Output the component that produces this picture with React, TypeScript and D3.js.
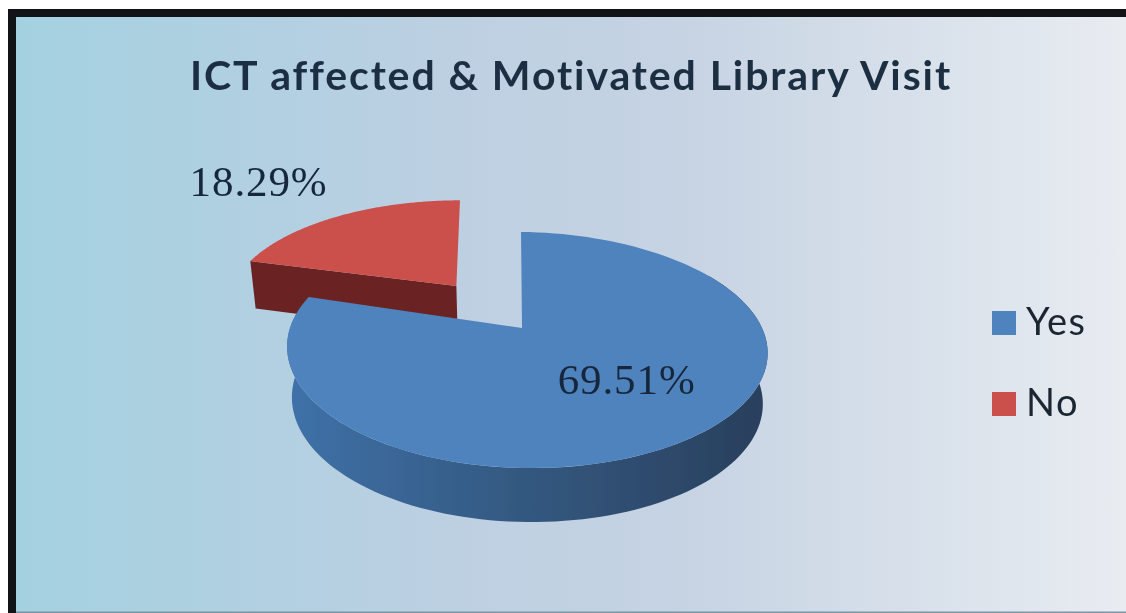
import React from 'react';
import * as d3 from 'd3';

const categories = ['Yes', 'No'];
const shares = [69.51, 18.29];
const colors = ['#5083bd', '#cb4f4b'];
const title = 'ICT affected & Motivated Library Visit';

const width = 1126;
const height = 613;

// perspective view of the pie disc
const apex = { x: 522, y: 328 };
const scaleX = 236;
const scaleY = 114;
const tilt = 0.186;
const skew = 0.068;
const explode = 0.487;
const redTwist = (-1.6 * Math.PI) / 180;

type Pt = [number, number];

// theta is clockwise from 12 o'clock, r is 0..1 on the disc
function project(theta: number, r: number, sliceIndex: number, lowered = false): Pt {
    const t = sliceIndex === 1 ? theta + redTwist : theta;
    let u = r * Math.sin(t);
    let v = -r * Math.cos(t);
    const bow = sliceIndex === 0 ? 4 * u * u : 0;
    if (sliceIndex === 1) {
        // red slice is pulled out along its middle
        u += explode * Math.sin(midAngle(1));
        v += -explode * Math.cos(midAngle(1));
    }
    const w = 1 - tilt * v;
    const y = apex.y + (scaleY * v) / w;
    const x = apex.x + ((lowered ? 0.98 : 1) * scaleX * u) / w + skew * (y - apex.y) + bow;
    return [x, lowered ? y + 50 + 4 * v : y];
}

const arcs = d3.pie<number>().sort(null).startAngle((1.6 * Math.PI) / 180).endAngle((361.6 * Math.PI) / 180)(shares);

function midAngle(i: number) {
    return (arcs[i].startAngle + arcs[i].endAngle) / 2;
}

const line = d3.line<Pt>().curve(d3.curveLinear);
const rim = [1, 1.02];

function arcPoints(start: number, end: number, sliceIndex: number, lowered = false): Pt[] {
    return d3.range(0, 121).map(i => project(start + ((end - start) * i) / 120, rim[sliceIndex], sliceIndex, lowered));
}

function slicePath(i: number) {
    const center = project(0, 0, i);
    return line([center, ...arcPoints(arcs[i].startAngle, arcs[i].endAngle, i)])! + 'Z';
}

function blueWall() {
    const a = Math.PI / 3;
    const b = arcs[0].endAngle;
    return line([...arcPoints(a, b, 0), ...arcPoints(a, b, 0, true).reverse()])! + 'Z';
}

function redWall() {
    const e = arcs[1].startAngle;
    return line([
        project(0, 0, 1),
        project(e, rim[1], 1),
        project(e, rim[1], 1, true),
        project(0, 0, 1, true),
    ])! + 'Z';
}

const yesLabel = project(midAngle(0), 0.57, 0);
const noLabel = project(midAngle(1), 1, 1);

const background: [string, string][] = [
    ['0%', '#a4d1e0'],
    ['20%', '#b0d0e1'],
    ['40%', '#bdd0e2'],
    ['60%', '#c6d3e3'],
    ['85%', '#dbe3ec'],
    ['100%', '#e9ecf1'],
];

export default function App() {
    const legendY = d3.scalePoint<string>().domain(categories).range([323, 404]);
    const labelStyle = { fontFamily: 'Liberation Serif', fontSize: 43, letterSpacing: 0.9, fill: '#16283c' };

    return (
        <svg width={width} height={height} style={{ position: 'absolute', left: 0, top: 0, display: 'block' }}>
            <defs>
                <linearGradient id="bg" x1="0" x2="1" y1="0" y2="0">
                    {background.map(([o, c]) => <stop key={o} offset={o} stopColor={c} />)}
                </linearGradient>
                <linearGradient id="wall" x1="0" x2="1" y1="0" y2="0">
                    <stop offset="0%" stopColor="#3f71a8" />
                    <stop offset="50%" stopColor="#33587f" />
                    <stop offset="100%" stopColor="#293f5c" />
                </linearGradient>
                <filter id="soft" x="-5%" y="-5%" width="110%" height="110%">
                    <feGaussianBlur stdDeviation="0.7" />
                </filter>
            </defs>
            <rect width={width} height={height} fill="#fff" />
            <rect x={8} y={9} width={width - 8} height={height - 9} fill="#111416" />
            <rect x={16} y={17} width={width - 16} height={height - 17} fill="url(#bg)" />
            <rect x={16} y={611.5} width={width - 16} height={1.5} fill="#7a96a4" />

            <g filter="url(#soft)">
                <text x={190} y={90} fontFamily="Lato" fontWeight={700} fontSize={41} letterSpacing={1.9} fill="#1d2f42">{title}</text>

                <path d={redWall()} fill="#6b2321" />
                <path d={slicePath(1)} fill={colors[1]} />
                <path d={blueWall()} fill="url(#wall)" />
                <path d={slicePath(0)} fill={colors[0]} />

                <text x={yesLabel[0] + 14} y={yesLabel[1] + 8} textAnchor="middle" {...labelStyle}>{shares[0].toFixed(2)}%</text>
                <text x={noLabel[0] - 83} y={noLabel[1] - 21} textAnchor="middle" {...labelStyle}>{shares[1].toFixed(2)}%</text>

                {categories.map((c, i) => (
                    <g key={c}>
                        <rect x={992} y={legendY(c)! - 12} width={24} height={24} fill={colors[i]} />
                        <text x={1026} y={legendY(c)! + 12} fontFamily="Lato" fontSize={38} letterSpacing={1.5} fill="#1a2530">{c}</text>
                    </g>
                ))}
            </g>
        </svg>
    );
}
